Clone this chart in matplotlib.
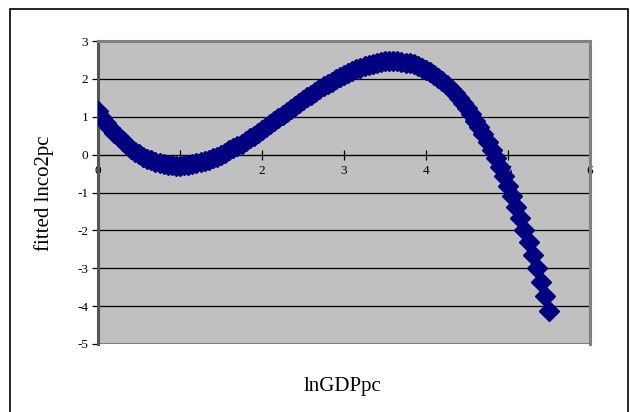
import matplotlib
matplotlib.use("Agg")
import matplotlib.pyplot as plt
from matplotlib.patches import Rectangle

# lnGDPpc values and fitted lnco2pc
ln_gdp = [0.00, 0.05, 0.10, 0.15, 0.20, 0.25, 0.30, 0.35, 0.40, 0.45,
          0.50, 0.55, 0.60, 0.65, 0.70, 0.75, 0.80, 0.85, 0.90, 0.95,
          1.00, 1.05, 1.10, 1.15, 1.20, 1.25, 1.30, 1.35, 1.40, 1.45,
          1.50, 1.55, 1.60, 1.65, 1.70, 1.75, 1.80, 1.85, 1.90, 1.95,
          2.00, 2.05, 2.10, 2.15, 2.20, 2.25, 2.30, 2.35, 2.40, 2.45,
          2.50, 2.55, 2.60, 2.65, 2.70, 2.75, 2.80, 2.85, 2.90, 2.95,
          3.00, 3.05, 3.10, 3.15, 3.20, 3.25, 3.30, 3.35, 3.40, 3.45,
          3.50, 3.55, 3.60, 3.65, 3.70, 3.75, 3.80, 3.85, 3.90, 3.95,
          4.00, 4.05, 4.10, 4.15, 4.20, 4.25, 4.30, 4.35, 4.40, 4.45,
          4.50, 4.55, 4.60, 4.65, 4.70, 4.75, 4.80, 4.85, 4.90, 4.95,
          5.00, 5.05, 5.10, 5.15, 5.20, 5.25, 5.30, 5.35, 5.40, 5.45,
          5.50]

fitted_co2 = [1.14, 0.98, 0.84, 0.70, 0.58, 0.46, 0.35, 0.25, 0.16, 0.08,
              0.01, -0.05, -0.11, -0.15, -0.19, -0.23, -0.25, -0.27, -0.28, -0.29,
              -0.29, -0.28, -0.27, -0.25, -0.23, -0.20, -0.17, -0.14, -0.09, -0.05,
              0.00, 0.05, 0.11, 0.17, 0.23, 0.29, 0.36, 0.43, 0.50, 0.58,
              0.65, 0.73, 0.80, 0.88, 0.96, 1.04, 1.12, 1.20, 1.28, 1.35,
              1.43, 1.51, 1.58, 1.66, 1.73, 1.80, 1.87, 1.93, 1.99, 2.05,
              2.11, 2.16, 2.21, 2.26, 2.30, 2.34, 2.37, 2.40, 2.43, 2.44,
              2.46, 2.46, 2.47, 2.46, 2.45, 2.43, 2.41, 2.38, 2.34, 2.29,
              2.24, 2.18, 2.11, 2.03, 1.94, 1.84, 1.74, 1.62, 1.50, 1.37,
              1.22, 1.07, 0.90, 0.73, 0.54, 0.34, 0.13, -0.09, -0.32, -0.56,
              -0.82, -1.09, -1.37, -1.67, -1.98, -2.30, -2.64, -2.99, -3.35, -3.73,
              -4.13]

x_ticks = [0, 1, 2, 3, 4, 5, 6]
y_ticks = [-5, -4, -3, -2, -1, 0, 1, 2, 3]

plt.rcParams['font.family'] = ['Liberation Serif', 'DejaVu Serif']
plt.rcParams['axes.unicode_minus'] = False

fig = plt.figure(figsize=(6.3, 4.12), dpi=100)

# outer chart frame (bottom edge falls off the picture)
fig.patches.append(Rectangle((10 / 630, -0.05), 618 / 630, 1.05 - 9 / 412,
                             transform=fig.transFigure, fill=False,
                             edgecolor='black', linewidth=1.2))

ax = fig.add_axes([98 / 630, 1 - 344 / 412, 492 / 630, 303 / 412])
ax.set_facecolor('#C0C0C0')

for y in y_ticks[1:-1]:
    if y != 0:
        ax.axhline(y, color='black', linewidth=0.9, zorder=1)

ax.plot(ln_gdp, fitted_co2, linestyle='none', marker='D', markersize=10,
        color='#000080', markeredgecolor='#000080', zorder=3)

ax.set_xlim(0, 6)
ax.set_ylim(-5, 3)
ax.set_xticks(x_ticks)
ax.set_yticks(y_ticks)

for side in ['top', 'right']:
    ax.spines[side].set_color('#808080')
    ax.spines[side].set_linewidth(2.2)
ax.spines['left'].set_color('#555555')
ax.spines['left'].set_linewidth(2.2)
ax.spines['bottom'].set_position(('data', 0))
ax.spines['bottom'].set_color('black')
ax.spines['bottom'].set_linewidth(1.0)
ax.spines['bottom'].set_zorder(2)

# bottom border of plot area
ax.add_patch(Rectangle((0, 0), 1, 1, transform=ax.transAxes, fill=False,
                       edgecolor='#808080', linewidth=2.2, zorder=0.5))

ax.tick_params(axis='x', direction='inout', length=7, width=0.9,
               labelsize=9.5, pad=4, color='black')
ax.tick_params(axis='y', direction='out', length=4, width=0.9,
               labelsize=9.5, pad=3, color='black')

ax.set_xlabel('lnGDPpc', fontsize=15)
ax.xaxis.set_label_coords((343 - 98) / 492, -(377 - 344) / 303)
ax.set_ylabel('fitted lnco2pc', fontsize=15)
ax.yaxis.set_label_coords(-(98 - 54) / 492, (344 - 193) / 303)

fig.savefig('out.png', dpi=100)
